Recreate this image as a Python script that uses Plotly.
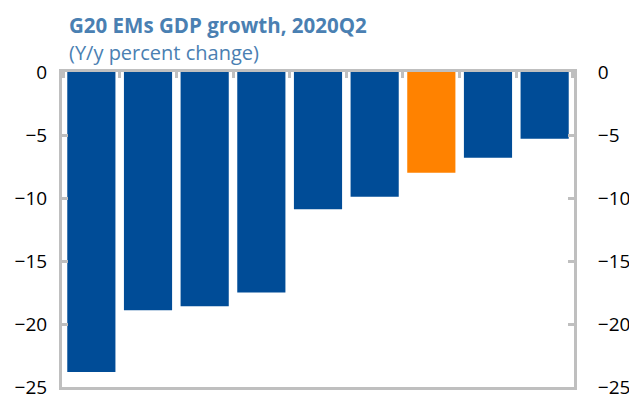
import plotly.graph_objects as go

categories = ["India", "Argentina", "Mexico", "South Africa", "Brazil", "Turkey", "Russia", "Saudi Arabia", "Indonesia"]
values = [-23.8, -18.9, -18.6, -17.5, -10.9, -9.9, -8.0, -6.8, -5.3]
colors = ["#004C97"] * 6 + ["#FF8200"] + ["#004C97"] * 2
y_ticks = [0, -5, -10, -15, -20, -25]

fig = go.Figure()
fig.add_trace(go.Bar(x=categories, y=values, marker=dict(color=colors, line=dict(width=0)),
                     showlegend=False, hoverinfo="skip"))
fig.add_trace(go.Scatter(x=categories, y=values, yaxis="y2", mode="markers",
                         marker=dict(opacity=0), showlegend=False, hoverinfo="skip"))

axis_color = "#BFBFBF"
font_family = "Open Sans, Noto Sans, sans-serif"

fig.update_layout(
    width=629, height=398,
    margin=dict(l=62, r=55, t=72, b=11),
    paper_bgcolor="white", plot_bgcolor="white",
    bargap=0.15,
    font=dict(family=font_family, size=19, color="black"),
    xaxis=dict(side="top", showline=True, linecolor=axis_color, linewidth=3, mirror=True,
               ticks="inside", tickson="boundaries", ticklen=6, tickwidth=3, tickcolor=axis_color,
               showticklabels=False, showgrid=False, zeroline=False, automargin=False),
    yaxis=dict(range=[-25, 0], tickvals=y_ticks, showline=True, linecolor=axis_color, linewidth=3,
               ticks="inside", ticklen=6, tickwidth=3, tickcolor=axis_color,
               showgrid=False, zeroline=False, ticklabelstandoff=8, automargin=False,
               ticklabeloverflow="allow"),
    yaxis2=dict(range=[-25, 0], tickvals=y_ticks, overlaying="y", side="right", showline=True,
                linecolor=axis_color, linewidth=3, ticks="inside", ticklen=6, tickwidth=3,
                tickcolor=axis_color, showgrid=False, zeroline=False, ticklabelstandoff=17,
                automargin=False, ticklabeloverflow="allow"),
)
fig.add_annotation(text="<b>G20 EMs GDP growth, 2020Q2</b>", xref="paper", yref="paper",
                   x=0.01, y=1, yshift=47, xanchor="left", yanchor="middle", showarrow=False,
                   font=dict(size=20.5, color="#4A80B2", family=font_family))
fig.add_annotation(text="(Y/y percent change)", xref="paper", yref="paper",
                   x=0.01, y=1, yshift=20, xanchor="left", yanchor="middle", showarrow=False,
                   font=dict(size=20, color="#4A80B2", family=font_family))

fig.write_html("out.html")
